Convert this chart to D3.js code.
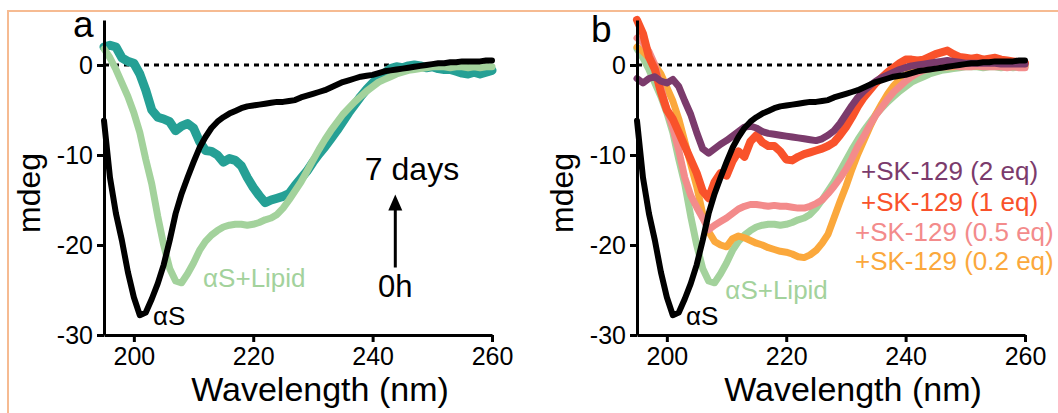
<!DOCTYPE html>
<html>
<head>
<meta charset="utf-8">
<script src="https://cdn.jsdelivr.net/npm/d3@7"></script>
<style>
  body { margin: 0; background: #fff; }
  svg { display: block; font-family: "Liberation Sans", Arial, sans-serif; }
</style>
</head>
<body>
<svg width="1058" height="413"></svg>
<script>
// wavelength sampling (nm)
var wavelengths = d3.range(195, 261, 1);

// CD signal (mdeg), one value per nm
var alphaS = [
  -6.2, -12.5, -16.5, -19.5, -23.0, -25.8, -27.8, -27.5, -26.0, -24.3,
  -22.2, -19.5, -16.5, -14.3, -12.5, -10.8, -9.2, -8.0, -7.0, -6.3,
  -5.8, -5.4, -5.1, -4.8, -4.6, -4.5, -4.4, -4.3, -4.2, -4.1,
  -4.1, -4.0, -3.9, -3.6, -3.4, -3.2, -3.0, -2.8, -2.5, -2.2,
  -1.9, -1.7, -1.5, -1.3, -1.2, -1.1, -0.9, -0.7, -0.6, -0.5,
  -0.4, -0.3, -0.2, -0.1, 0.0, 0.1, 0.2, 0.2, 0.3, 0.3,
  0.4, 0.4, 0.4, 0.4, 0.5, 0.5
];
var alphaSLipid = [
  1.8, 0.8, -0.5, -2.0, -3.5, -5.3, -7.5, -10.5, -13.2, -16.8,
  -20.0, -22.6, -24.0, -24.2, -23.2, -22.0, -20.6, -19.6, -18.9, -18.4,
  -18.0, -17.8, -17.7, -17.7, -17.8, -17.7, -17.5, -17.2, -17.0, -16.6,
  -15.9, -15.0, -14.0, -13.0, -11.8, -10.6, -9.4, -8.3, -7.3, -6.4,
  -5.5, -4.8, -4.1, -3.5, -2.9, -2.4, -1.9, -1.6, -1.3, -1.0,
  -0.8, -0.6, -0.5, -0.4, -0.3, -0.2, -0.2, -0.2, -0.3, -0.2,
  -0.2, -0.3, -0.2, -0.3, -0.2, -0.2
];
var lipid7days = [
  2.0, 2.2, 2.0, 0.8, 0.4, 0.2, -1.0, -2.8, -5.0, -5.8,
  -6.0, -6.3, -7.3, -6.8, -6.5, -7.0, -8.5, -9.5, -9.6, -10.0,
  -10.8, -10.4, -10.6, -11.2, -12.5, -13.6, -14.5, -15.3, -15.0, -14.8,
  -14.6, -14.3, -13.4, -12.6, -11.8, -10.8, -9.9, -9.1, -8.2, -7.3,
  -6.3, -5.3, -4.4, -3.5, -2.7, -2.0, -1.4, -0.9, -0.4, -0.2,
  -0.3, -0.1, 0.0, -0.1, -0.3, -0.2, -0.4, -0.5, -0.5, -0.7,
  -0.9, -1.0, -0.8, -1.0, -0.8, -0.6
];
var sk2eq = [
  -1.5, -2.0, -1.5, -1.3, -1.8, -2.0, -1.6, -2.4, -4.0, -5.5,
  -7.5, -9.3, -9.8, -9.3, -8.8, -8.4, -7.9, -7.4, -6.9, -6.8,
  -7.0, -7.4, -7.6, -7.7, -7.8, -7.9, -8.0, -8.1, -8.2, -8.3,
  -8.4, -8.2, -7.8, -7.3, -6.5, -5.5, -4.5, -3.6, -2.9, -2.3,
  -1.8, -1.4, -1.1, -0.8, -0.5, -0.3, -0.1, 0.0, 0.1, 0.2,
  0.3, 0.4, 0.5, 0.4, 0.3, 0.2, 0.2, 0.2, 0.2, 0.2,
  0.2, 0.1, 0.1, 0.1, 0.1, 0.1
];
var sk1eq = [
  5.0, 3.5, 0.9, -0.5, -3.0, -5.0, -6.0, -7.5, -9.0, -10.5,
  -12.0, -14.0, -14.8, -13.0, -12.0, -12.3, -10.7, -9.6, -10.2, -8.5,
  -7.8, -8.6, -9.0, -9.0, -9.6, -10.5, -10.6, -10.2, -9.9, -9.7,
  -9.5, -9.3, -9.0, -8.6, -7.8, -6.9, -5.8, -4.6, -3.6, -2.8,
  -2.0, -1.4, -0.8, -0.3, 0.2, 0.6, 0.6, 0.5, 0.6, 0.9,
  1.2, 1.4, 1.6, 1.2, 0.9, 0.8, 0.7, 0.8, 0.6, 0.7,
  0.8, 0.6, 0.5, 0.4, 0.3, 0.2
];
var sk05eq = [
  3.0, 2.5, 1.5, 0.0, -2.5, -5.0, -7.0, -9.5, -12.5, -14.5,
  -15.8, -17.0, -18.3, -17.8, -17.4, -17.0, -16.5, -16.0, -15.7, -15.5,
  -15.5, -15.6, -15.7, -15.6, -15.7, -15.7, -15.8, -15.9, -15.9, -15.7,
  -15.4, -15.0, -14.3, -13.5, -12.6, -11.6, -10.4, -9.0, -7.9, -6.7,
  -5.6, -4.7, -3.8, -3.0, -2.4, -1.8, -1.3, -0.9, -0.6, -0.4,
  -0.3, -0.2, -0.2, -0.1, -0.2, -0.2, -0.2, -0.1, -0.2, -0.2,
  -0.2, -0.2, -0.3, -0.2, -0.3, -0.3
];
var sk02eq = [
  2.0, 1.5, 0.8, 0.0, -1.0, -2.5, -4.0, -6.0, -8.5, -11.0,
  -13.5, -16.5, -18.5, -19.6, -20.0, -20.2, -19.3, -19.0, -19.2, -19.5,
  -19.8, -20.0, -20.3, -20.5, -20.7, -20.8, -21.0, -21.3, -21.4, -21.1,
  -20.6, -19.8, -18.8, -17.0, -15.2, -13.5, -11.6, -9.9, -8.4, -6.9,
  -5.5, -4.3, -3.2, -2.3, -1.6, -1.1, -0.7, -0.5, -0.4, -0.3,
  -0.3, -0.2, -0.2, -0.2, -0.1, -0.1, -0.1, -0.1, -0.1, -0.1,
  -0.1, -0.1, -0.1, -0.1, -0.1, -0.1
];

var xTicks = [200, 220, 240, 260];
var yTicks = [0, -10, -20, -30];
var legendLabels = ['+SK-129 (2 eq)', '+SK-129 (1 eq)', '+SK-129 (0.5 eq)', '+SK-129 (0.2 eq)'];

var C = {
  black: '#000000', teal: '#25a095', green: '#a3d29c',
  purple: '#7b3b6c', red: '#f9522b', pink: '#f38b8b', orange: '#fba83c'
};

var svg = d3.select('svg');
svg.append('rect').attr('width', 1058).attr('height', 413).attr('fill', '#fff');
// peach frame around figure
svg.append('rect')
  .attr('x', 8).attr('y', 11).attr('width', 1070).attr('height', 420)
  .attr('fill', 'none').attr('stroke', '#f6bb92').attr('stroke-width', 2);

function panel(opt) {
  var x = d3.scaleLinear().domain([195, 260]).range([opt.left, opt.right]);
  var y = d3.scaleLinear().domain([-30, 5]).range([335, 20]);
  var g = svg.append('g');

  var line = d3.line()
    .x(function(d, i) { return x(wavelengths[i]); })
    .y(function(d) { return y(d); });

  // zero reference
  g.append('line')
    .attr('x1', x(195)).attr('x2', x(260)).attr('y1', y(0)).attr('y2', y(0))
    .attr('stroke', '#000').attr('stroke-width', 3).attr('stroke-dasharray', '5,5');

  opt.series.forEach(function(s) {
    g.append('path')
      .datum(s.values)
      .attr('d', line)
      .attr('fill', 'none')
      .attr('stroke', s.color)
      .attr('stroke-width', s.width)
      .attr('stroke-linejoin', 'round')
      .attr('stroke-linecap', 'round');
  });

  var ya = g.append('g')
    .attr('transform', 'translate(' + opt.left + ',0)')
    .call(d3.axisLeft(y).tickValues(yTicks).tickSize(7).tickPadding(4).tickSizeOuter(0)
      .tickFormat(function(d) { return String(d); }));
  var xa = g.append('g')
    .attr('transform', 'translate(0,335)')
    .call(d3.axisBottom(x).tickValues(xTicks).tickSize(7).tickPadding(5).tickSizeOuter(0));
  [ya, xa].forEach(function(a) {
    a.selectAll('path, line').attr('stroke', '#000').attr('stroke-width', 3);
    a.selectAll('text').attr('font-size', 25).attr('fill', '#000')
      .attr('font-family', '"Liberation Sans", Arial, sans-serif');
  });

  g.append('text')
    .attr('x', (opt.left + opt.right) / 2 + 22).attr('y', 401)
    .attr('text-anchor', 'middle').attr('font-size', 34)
    .text('Wavelength (nm)');
  g.append('text')
    .attr('transform', 'translate(' + (opt.left - 64) + ',193) rotate(-90)')
    .attr('text-anchor', 'middle').attr('font-size', 32)
    .text('mdeg');
  g.append('text')
    .attr('x', opt.letterX).attr('y', opt.letterY)
    .attr('font-size', 37).text(opt.letter);

  g.append('text').attr('x', x(203.2)).attr('y', y(-28.9))
    .attr('font-size', 26).attr('fill', C.black).text('αS');
  g.append('text').attr('x', x(opt.lipidX)).attr('y', y(opt.lipidY))
    .attr('font-size', 26).attr('fill', C.green).text('αS+Lipid');

  return { g: g, x: x, y: y };
}

var a = panel({
  left: 104, right: 492, letter: 'a', letterX: 73, letterY: 37, lipidX: 211.6, lipidY: -24.7,
  series: [
    { values: lipid7days, color: C.teal, width: 9 },
    { values: alphaSLipid, color: C.green, width: 7 },
    { values: alphaS, color: C.black, width: 6 }
  ]
});

// 0h -> 7 days arrow
a.g.append('line')
  .attr('x1', a.x(243.8)).attr('x2', a.x(243.8))
  .attr('y1', a.y(-22.5)).attr('y2', a.y(-16))
  .attr('stroke', '#000').attr('stroke-width', 3);
a.g.append('path')
  .attr('d', 'M' + a.x(243.8) + ',' + a.y(-14.4) + 'l-7,16l14,0z')
  .attr('fill', '#000');
a.g.append('text').attr('x', a.x(246.6)).attr('y', a.y(-12.8))
  .attr('text-anchor', 'middle').attr('font-size', 32).text('7 days');
a.g.append('text').attr('x', a.x(243.8)).attr('y', a.y(-25.8))
  .attr('text-anchor', 'middle').attr('font-size', 31).text('0h');

var b = panel({
  left: 637, right: 1025, letter: 'b', letterX: 591, letterY: 42, lipidX: 209.8, lipidY: -26.0,
  series: [
    { values: alphaSLipid, color: C.green, width: 7 },
    { values: sk02eq, color: C.orange, width: 7 },
    { values: sk05eq, color: C.pink, width: 7 },
    { values: sk1eq, color: C.red, width: 8 },
    { values: sk2eq, color: C.purple, width: 7 },
    { values: alphaS, color: C.black, width: 6 }
  ]
});

var legendColors = [C.purple, C.red, C.pink, C.orange];
var legendX = [861, 861, 855, 855];
var legendY = [180, 211, 241, 270];
b.g.selectAll('.leg')
  .data(legendLabels)
  .enter().append('text')
  .attr('class', 'leg')
  .attr('x', function(d, i) { return legendX[i]; })
  .attr('y', function(d, i) { return legendY[i]; })
  .attr('font-size', 26)
  .attr('fill', function(d, i) { return legendColors[i]; })
  .text(function(d) { return d; });
</script>
</body>
</html>
